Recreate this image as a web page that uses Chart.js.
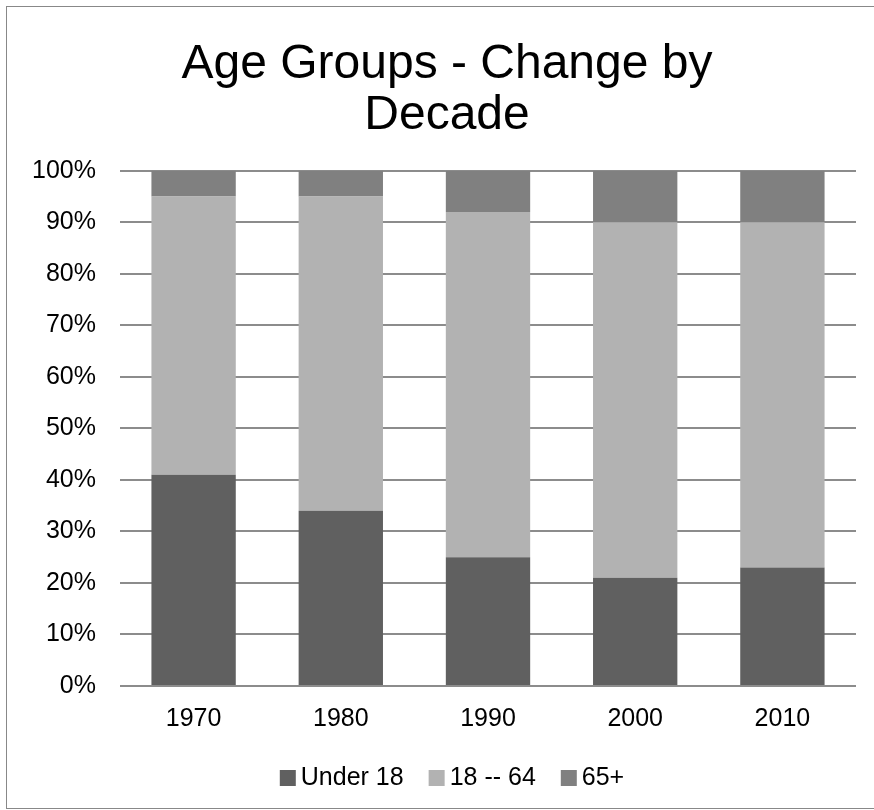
<!DOCTYPE html>
<html>
<head>
<meta charset="utf-8">
<script src="https://cdn.jsdelivr.net/npm/chart.js@4.4.0/dist/chart.umd.min.js"></script>
<style>
  html, body { margin: 0; padding: 0; background: #ffffff; }
  #wrap { width: 874px; height: 810px; position: relative; }
</style>
</head>
<body>
<div id="wrap"><canvas id="c" width="874" height="810"></canvas></div>
<script>
// Share of population by age group, per census decade (percent)
const decades = ['1970', '1980', '1990', '2000', '2010'];
const under18 = [41, 34, 25, 21, 23];
const adults18to64 = [54, 61, 67, 69, 67];
const seniors65 = [5, 5, 8, 10, 10];
const seriesNames = ['Under 18', '18 -- 64', '65+'];
const seriesColors = ['#606060', '#b2b2b2', '#808080'];
const percentTicks = [0, 10, 20, 30, 40, 50, 60, 70, 80, 90, 100];

const FONT = '"Liberation Sans", Arial, sans-serif';

// White background and thin frame around the whole chart
const framePlugin = {
  id: 'frame',
  beforeDraw(chart) {
    const ctx = chart.ctx;
    ctx.save();
    ctx.fillStyle = '#ffffff';
    ctx.fillRect(0, 0, chart.width, chart.height);
    ctx.strokeStyle = '#888888';
    ctx.lineWidth = 1;
    ctx.strokeRect(6.5, 6.5, 900, 802);
    ctx.restore();
  }
};

// The frame is wider than the visible canvas, so centre the title on the frame
const titleShiftPlugin = {
  id: 'titleShift',
  afterLayout(chart) {
    const t = chart.titleBlock;
    if (t) { t.left += 14; t.right += 14; }
  }
};

// Compact legend row under the axis: square swatch, small gap, label
const legendRowPlugin = {
  id: 'legendRow',
  afterDraw(chart) {
    const ctx = chart.ctx;
    const box = 16, gap = 5, itemGap = 25, centerX = 452, centerY = 778;
    ctx.save();
    ctx.font = '25px ' + FONT;
    ctx.textBaseline = 'middle';
    const items = chart.data.datasets.map(ds => ({
      text: ds.label, color: ds.backgroundColor, w: ctx.measureText(ds.label).width
    }));
    let total = 0;
    items.forEach((it, i) => { total += box + gap + it.w + (i < items.length - 1 ? itemGap : 0); });
    let x = centerX - total / 2;
    items.forEach(it => {
      ctx.fillStyle = it.color;
      ctx.fillRect(x, centerY - box / 2, box, box);
      x += box + gap;
      ctx.fillStyle = '#000000';
      ctx.fillText(it.text, x, centerY);
      x += it.w + itemGap;
    });
    ctx.restore();
  }
};

const seriesData = [under18, adults18to64, seniors65];

new Chart(document.getElementById('c'), {
  type: 'bar',
  data: {
    labels: decades,
    datasets: seriesData.map((vals, i) => ({
      label: seriesNames[i],
      data: vals,
      backgroundColor: seriesColors[i],
      borderWidth: 0,
      categoryPercentage: 1,
      barPercentage: 0.573
    }))
  },
  options: {
    responsive: false,
    animation: false,
    events: [],
    layout: { padding: { left: 10, right: 18, top: 0, bottom: 74 } },
    plugins: {
      legend: { display: false },
      tooltip: { enabled: false },
      title: {
        display: true,
        text: ['Age Groups - Change by', 'Decade'],
        color: '#000000',
        font: { family: FONT, size: 48, weight: 'normal', lineHeight: 1.05 },
        padding: { top: 40, bottom: 30 }
      }
    },
    scales: {
      x: {
        stacked: true,
        grid: { display: false, drawTicks: false },
        border: { display: false },
        ticks: { color: '#000000', font: { family: FONT, size: 25 }, padding: 18 },
        afterFit(scale) { scale.height = 50; }
      },
      y: {
        stacked: true,
        min: 0,
        max: 100,
        afterBuildTicks(scale) { scale.ticks = percentTicks.map(v => ({ value: v })); },
        grid: { color: '#8c8c8c', lineWidth: 2, drawTicks: false },
        border: { display: false },
        ticks: {
          color: '#000000',
          font: { family: FONT, size: 25 },
          padding: 24,
          callback: v => v + '%'
        },
        afterFit(scale) { scale.width = 110; }
      }
    }
  },
  plugins: [framePlugin, titleShiftPlugin, legendRowPlugin]
});
</script>
</body>
</html>
